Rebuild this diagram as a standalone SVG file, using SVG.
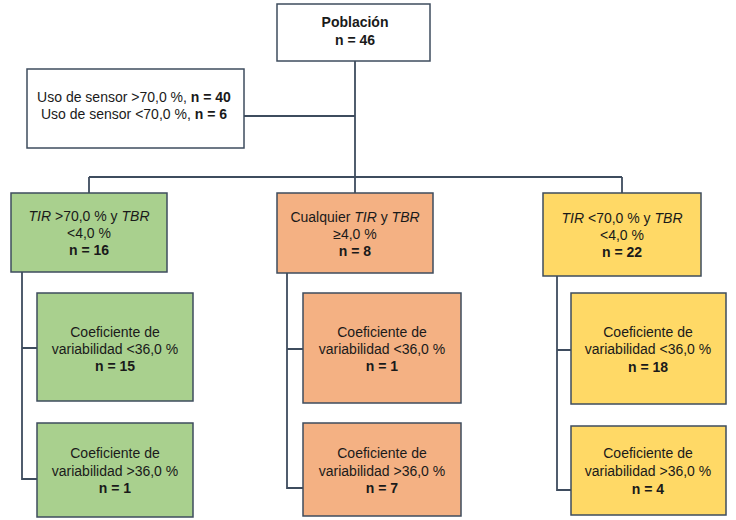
<svg xmlns="http://www.w3.org/2000/svg" width="736" height="520" viewBox="0 0 736 520">
<style>
.box{stroke:#3e4c5e;stroke-width:1.5}
.w{fill:#ffffff}
.g{fill:#a9d08e}
.o{fill:#f4b183}
.y{fill:#ffd966}
.c{fill:none;stroke:#3e4c5e;stroke-width:1.8}
text{font-family:"Liberation Sans",Arial,sans-serif;font-size:14px;fill:#1a1a1a;text-anchor:middle}
.b{font-weight:bold}
.i{font-style:italic}
</style>
<rect width="736" height="520" fill="#ffffff"/>
<g id="connectors">
<path class="c" d="M355,61 V177"/>
<path class="c" d="M244,116 H355"/>
<path class="c" d="M89,177 H622"/>
<path class="c" d="M89,177 V193 M355,177 V193 M622,177 V193"/>
<path class="c" d="M22,272 V479 H37 M22,348 H37"/>
<path class="c" d="M287,273 V488 H303 M287,349 H303"/>
<path class="c" d="M557,276 V490 H571 M557,350 H571"/>
</g>
<g id="poblacion">
<rect class="box w" x="277" y="4" width="153" height="57"/>
<text class="b" x="355" y="27">Población</text>
<text class="b" x="355" y="45">n = 46</text>
</g>
<g id="sensor">
<rect class="box w" x="27" y="69" width="217" height="79"/>
<text x="134" y="102">Uso de sensor &gt;70,0 %, <tspan class="b">n = 40</tspan></text>
<text x="134" y="119">Uso de sensor &lt;70,0 %, <tspan class="b">n = 6</tspan></text>
</g>
<g id="grupo-tir-alto">
<rect class="box g" x="11" y="193" width="156" height="79"/>
<text x="89" y="221"><tspan class="i">TIR</tspan> &gt;70,0 % y <tspan class="i">TBR</tspan></text>
<text x="89" y="238">&lt;4,0 %</text>
<text class="b" x="89" y="255">n = 16</text>
</g>
<g id="grupo-tbr-alto">
<rect class="box o" x="277" y="193" width="156" height="80"/>
<text x="355" y="222">Cualquier <tspan class="i">TIR</tspan> y <tspan class="i">TBR</tspan></text>
<text x="355" y="239">≥4,0 %</text>
<text class="b" x="355" y="256">n = 8</text>
</g>
<g id="grupo-tir-bajo">
<rect class="box y" x="543" y="193" width="158" height="83"/>
<text x="622" y="223"><tspan class="i">TIR</tspan> &lt;70,0 % y <tspan class="i">TBR</tspan></text>
<text x="622" y="240">&lt;4,0 %</text>
<text class="b" x="622" y="257">n = 22</text>
</g>
<g id="verde-cv-bajo">
<rect class="box g" x="37" y="293" width="156" height="108"/>
<text x="115" y="337">Coeficiente de</text>
<text x="115" y="354">variabilidad &lt;36,0 %</text>
<text class="b" x="115" y="371">n = 15</text>
</g>
<g id="verde-cv-alto">
<rect class="box g" x="37" y="423" width="156" height="94"/>
<text x="115" y="458">Coeficiente de</text>
<text x="115" y="476">variabilidad &gt;36,0 %</text>
<text class="b" x="115" y="493">n = 1</text>
</g>
<g id="naranja-cv-bajo">
<rect class="box o" x="303" y="293" width="158" height="110"/>
<text x="382" y="337">Coeficiente de</text>
<text x="382" y="354">variabilidad &lt;36,0 %</text>
<text class="b" x="382" y="371">n = 1</text>
</g>
<g id="naranja-cv-alto">
<rect class="box o" x="303" y="423" width="158" height="93"/>
<text x="382" y="458">Coeficiente de</text>
<text x="382" y="476">variabilidad &gt;36,0 %</text>
<text class="b" x="382" y="493">n = 7</text>
</g>
<g id="amarillo-cv-bajo">
<rect class="box y" x="571" y="293" width="155" height="111"/>
<text x="648" y="337">Coeficiente de</text>
<text x="648" y="354">variabilidad &lt;36,0 %</text>
<text class="b" x="648" y="372">n = 18</text>
</g>
<g id="amarillo-cv-alto">
<rect class="box y" x="571" y="426" width="155" height="89"/>
<text x="648" y="458">Coeficiente de</text>
<text x="648" y="476">variabilidad &gt;36,0 %</text>
<text class="b" x="648" y="494">n = 4</text>
</g>
</svg>
